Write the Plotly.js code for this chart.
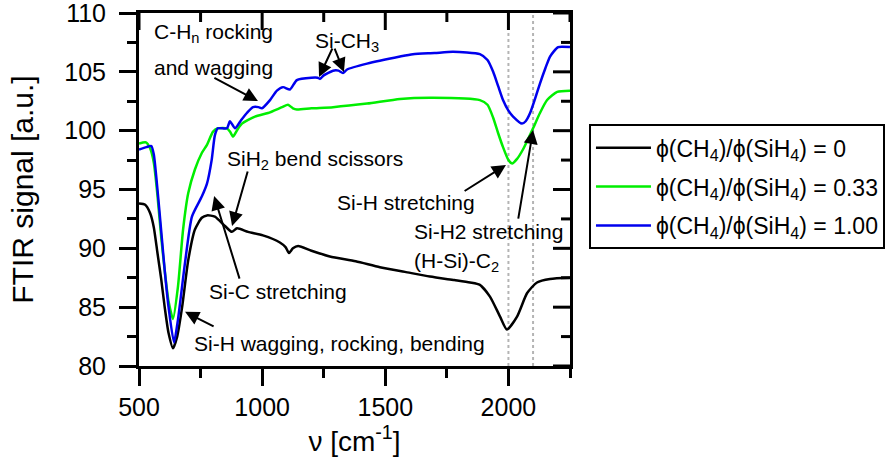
<!DOCTYPE html>
<html>
<head>
<meta charset="utf-8">
<script src="https://cdn.plot.ly/plotly-3.0.1.min.js"></script>
<style>html,body{margin:0;padding:0;background:#fff}#chart{width:885px;height:472px}</style>
</head>
<body>
<div id="chart"></div>
<script>
// ---- data ----
const seriesNames = [
  'ϕ(CH<sub>4</sub>)/ϕ(SiH<sub>4</sub>) = 0',
  'ϕ(CH<sub>4</sub>)/ϕ(SiH<sub>4</sub>) = 0.33',
  'ϕ(CH<sub>4</sub>)/ϕ(SiH<sub>4</sub>) = 1.00'
];
const seriesColors = ['#000000', '#00ee00', '#0000ee'];

const blackX = [500,525,545,560,575,590,605,620,638,655,675,700,727,755,776,808,849,877,898,943,1003,1072,1095,1109,1125,1146,1200,1275,1380,1478,1580,1681,1780,1844,1884,1925,1966,1994,2035,2076,2116,2169,2250];
const blackY = [93.8,93.7,93.0,91.8,89.6,87.4,84.9,82.8,81.5,82.5,85.0,89.0,91.6,92.6,92.8,92.7,91.9,91.4,91.7,91.4,91.1,90.5,90.1,89.6,90.0,90.2,89.8,89.3,88.9,88.4,88.0,87.6,87.3,87.1,86.9,85.9,84.2,83.1,84.2,86.2,87.1,87.4,87.5];

const greenX = [500,528,545,560,575,590,605,620,638,658,679,700,727,755,776,800,820,857,870,882,900,918,971,1024,1081,1105,1125,1141,1200,1288,1426,1560,1694,1884,1915,1938,1958,1978,2000,2015,2035,2059,2080,2100,2128,2157,2198,2250];
const greenY = [98.9,99.0,98.5,97.3,94.5,91.0,88.0,85.5,84.0,86.7,91.6,94.7,96.7,98.1,98.8,99.9,100.2,100.2,99.9,99.5,100.1,100.6,101.2,101.5,102.0,102.2,101.9,101.8,101.9,102.0,102.3,102.7,102.8,102.6,102.2,101.1,99.8,98.6,97.5,97.2,97.6,98.4,99.3,100.2,101.5,102.6,103.3,103.4];

const blueX = [500,530,550,560,575,590,605,620,642,658,687,715,755,776,795,808,820,857,869,890,915,938,963,985,999,1032,1060,1085,1113,1141,1200,1225,1235,1250,1288,1310,1328,1345,1426,1560,1612,1700,1775,1884,1915,1938,1958,1978,2000,2019,2055,2070,2088,2108,2128,2150,2169,2202,2250];
const blueY = [98.4,98.6,98.7,98.0,95.0,91.5,88.0,85.0,82.0,83.9,88.8,92.7,94.4,95.5,97.5,99.6,100.2,100.2,100.8,100.2,100.9,101.5,102.0,102.0,101.9,102.6,103.4,103.7,103.5,104.3,104.5,104.5,104.4,104.7,105.1,105.1,104.9,105.2,105.7,106.3,106.5,106.6,106.7,106.5,106.0,105.0,103.8,102.6,101.7,101.2,100.6,100.8,101.5,102.7,104.0,105.3,106.3,107.1,107.1];

const xRange = [500, 2250];
const yRange = [80, 110];
const xTickVals = [500, 1000, 1500, 2000];
const xTickText = ['500', '1000', '1500', '2000'];
const xMinorVals = [750, 1250, 1750, 2250];
const yTickVals = [80, 85, 90, 95, 100, 105, 110];
const yTickText = ['80', '85', '90', '95', '100', '105', '110'];
const yMinorVals = [82.5, 87.5, 92.5, 97.5, 102.5, 107.5];
const markerLinesX = [2000, 2100];

const FONT = 'Liberation Sans, Arial, sans-serif';
const W = 885, H = 472;
const M = {l: 139, r: 315, t: 13, b: 106};
const PLOT_W = W - M.l - M.r, PLOT_H = H - M.t - M.b;
const MAJOR_LEN = 17, MINOR_LEN = 9;

const xs = [blackX, greenX, blueX];
const ys = [blackY, greenY, blueY];
const traces = xs.map((x, i) => ({
  x: x, y: ys[i], type: 'scatter', mode: 'lines', name: seriesNames[i], legendgroup: 'g' + i,
  line: {color: seriesColors[i], width: 2.5, shape: 'spline', smoothing: 0.6},
  hoverinfo: 'skip'
}));

function txt(text, x, y) {
  return {text: text, x: x, y: y, xref: 'x', yref: 'y', xanchor: 'left', yanchor: 'middle',
    showarrow: false, font: {family: FONT, size: 21, color: '#000'}};
}
function arr(hx, hy, tx, ty) {
  return {text: '', x: hx, y: hy, ax: tx, ay: ty, xref: 'x', yref: 'y', axref: 'x', ayref: 'y',
    showarrow: true, arrowhead: 2, arrowsize: 1.4, arrowwidth: 2, arrowcolor: '#000', standoff: 0};
}

const annotations = [
  txt('C-H<sub>n</sub> rocking', 553, 108.3),
  txt('and wagging', 553, 105.4),
  arr(983, 102.52, 800, 104.56),
  txt('Si-CH<sub>3</sub>', 1206, 107.5),
  arr(1231, 104.56, 1288, 107.11),
  arr(1332, 104.98, 1292, 107.11),
  txt('SiH<sub>2</sub> bend scissors', 849, 97.5),
  arr(878, 91.9, 943, 96.66),
  txt('Si-C stretching', 776, 86.3),
  arr(805, 94.44, 910, 87.3),
  txt('Si-H wagging, rocking, bending', 715, 81.95),
  arr(687, 84.6, 809, 83.3),
  txt('Si-H stretching', 1296, 93.9),
  arr(1990, 97.08, 1816, 94.79),
  txt('Si-H2 stretching', 1608, 91.4),
  txt('(H-Si)-C<sub>2</sub>', 1608, 88.8),
  arr(2100, 100.06, 2039, 92.4)
];

const shapes = markerLinesX.map(v => ({
  type: 'line', xref: 'x', yref: 'paper', x0: v, x1: v, y0: 0, y1: 1,
  line: {color: '#b4b4b4', width: 2, dash: 'dot'}, layer: 'below'
}));
// mirrored ticks pointing inward on the top and right frame edges
function topTick(v, len) {
  return {type: 'line', xref: 'x', yref: 'paper', x0: v, x1: v, y0: 1, y1: 1 - len / PLOT_H,
    line: {color: '#000', width: 3}, layer: 'above'};
}
function rightTick(v, len) {
  return {type: 'line', yref: 'y', xref: 'paper', y0: v, y1: v, x0: 1, x1: 1 - len / PLOT_W,
    line: {color: '#000', width: 3}, layer: 'above'};
}
xTickVals.forEach(v => shapes.push(topTick(v, MAJOR_LEN)));
xMinorVals.forEach(v => shapes.push(topTick(v, MINOR_LEN)));
yTickVals.forEach(v => shapes.push(rightTick(v, MAJOR_LEN)));
yMinorVals.forEach(v => shapes.push(rightTick(v, MINOR_LEN)));

const tickfont = {family: FONT, size: 25, color: '#000'};
const layout = {
  width: W, height: H,
  margin: {l: M.l, r: M.r, t: M.t, b: M.b, autoexpand: false},
  paper_bgcolor: '#fff', plot_bgcolor: '#fff',
  font: {family: FONT, color: '#000'},
  showlegend: true,
  legend: {x: 1.044, y: 0.685, xanchor: 'left', yanchor: 'top', bgcolor: '#fff', itemwidth: 55,
    tracegroupgap: 6, traceorder: 'grouped',
    bordercolor: '#000', borderwidth: 2, font: {family: FONT, size: 23, color: '#000'}},
  xaxis: {range: xRange, tickmode: 'array', tickvals: xTickVals, ticktext: xTickText,
    ticks: 'outside', ticklen: MAJOR_LEN, tickwidth: 3, ticklabeloverflow: 'allow',
    tickcolor: '#000', showline: true, linewidth: 3, linecolor: '#000', mirror: true,
    showgrid: false, zeroline: false, tickfont: tickfont, layer: 'above traces',
    minor: {tickmode: 'array', tickvals: xMinorVals, ticks: 'outside', ticklen: MINOR_LEN, tickwidth: 3, tickcolor: '#000', showgrid: false},
    title: {text: 'ν [cm<sup>-1</sup>]', font: {family: FONT, size: 28, color: '#000'}, standoff: 12}},
  yaxis: {range: yRange, tickmode: 'array', tickvals: yTickVals, ticktext: yTickText,
    ticks: 'outside', ticklen: MAJOR_LEN, tickwidth: 3, ticklabelstandoff: 8, ticklabeloverflow: 'allow',
    tickcolor: '#000', showline: true, linewidth: 3, linecolor: '#000', mirror: true,
    showgrid: false, zeroline: false, tickfont: tickfont, layer: 'above traces',
    minor: {tickmode: 'array', tickvals: yMinorVals, ticks: 'outside', ticklen: MINOR_LEN, tickwidth: 3, tickcolor: '#000', showgrid: false},
    title: {text: 'FTIR signal [a.u.]', font: {family: FONT, size: 30, color: '#000'}, standoff: 22}},
  annotations: annotations,
  shapes: shapes
};

Plotly.newPlot('chart', traces, layout, {staticPlot: true, displayModeBar: false});
</script>
</body>
</html>
